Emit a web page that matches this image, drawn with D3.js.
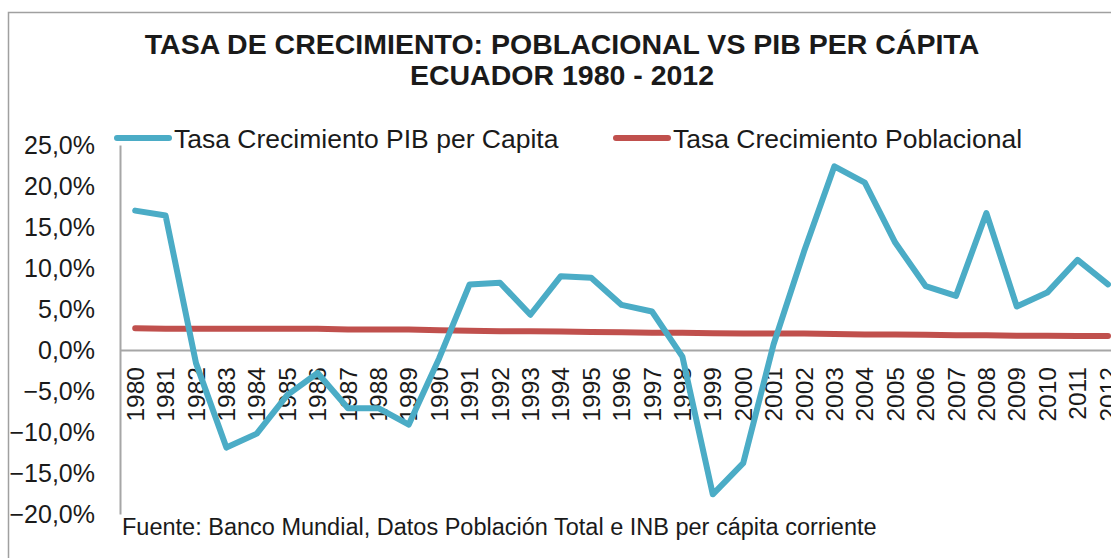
<!DOCTYPE html>
<html>
<head>
<meta charset="utf-8">
<script src="https://cdn.jsdelivr.net/npm/d3@7"></script>
<style>
  body { margin: 0; background: #fff; }
  svg { display: block; font-family: "Liberation Sans", Arial, sans-serif; }
</style>
</head>
<body>
<div id="chart"></div>
<script>
// Chart data
const years = ["1980","1981","1982","1983","1984","1985","1986","1987","1988","1989",
  "1990","1991","1992","1993","1994","1995","1996","1997","1998","1999","2000",
  "2001","2002","2003","2004","2005","2006","2007","2008","2009","2010","2011","2012"];

// Tasa crecimiento PIB per capita (%)
const pibValues = [17.0, 16.4, -1.6, -11.9, -10.2, -5.5, -2.8, -7.1, -7.1, -9.1,
  -1.0, 8.0, 8.2, 4.3, 9.0, 8.8, 5.5, 4.7, -0.8, -17.6, -13.8,
  0.7, 12.0, 22.4, 20.4, 13.1, 7.8, 6.6, 16.7, 5.3, 7.0, 11.0, 8.0];

// Tasa crecimiento poblacional (%)
const popValues = [2.65, 2.6, 2.6, 2.6, 2.6, 2.6, 2.6, 2.5, 2.5, 2.5,
  2.4, 2.35, 2.3, 2.3, 2.25, 2.2, 2.15, 2.1, 2.1, 2.05, 2.0,
  2.0, 2.0, 1.95, 1.9, 1.9, 1.85, 1.8, 1.8, 1.75, 1.75, 1.7, 1.7];

const yTicks = [-20, -15, -10, -5, 0, 5, 10, 15, 20, 25];

const titleLines = ["TASA DE CRECIMIENTO: POBLACIONAL VS PIB PER CÁPITA", "ECUADOR 1980 - 2012"];
const seriesNames = ["Tasa Crecimiento PIB per Capita", "Tasa Crecimiento Poblacional"];
const sourceText = "Fuente: Banco Mundial, Datos Población Total e INB per cápita corriente";

////////////////////////////////////////////////////////////////////////
// Layout

const width = 1111, height = 558;
const blue = "#4BACC6", red = "#C0504D", axisGray = "#A6A6A6";

const svg = d3.select("#chart").append("svg")
  .attr("width", width)
  .attr("height", height);

// chart frame (runs off the right and bottom edge, like the screenshot)
svg.append("rect")
  .attr("x", 8.5).attr("y", 12.5)
  .attr("width", 1300).attr("height", 700)
  .attr("fill", "#fff")
  .attr("stroke", "#A0A0A0")
  .attr("stroke-width", 1.5);

// Scales
const xScale = d3.scaleBand()
  .domain(years)
  .range([120, 120 + 33 * 30.4])
  .padding(0);

const yScale = d3.scaleLinear()
  .domain([-20, 25])
  .range([514, 145]);

const xc = d => xScale(d) + xScale.bandwidth() / 2;

// comma decimal locale
const esLocale = d3.formatLocale({decimal: ",", thousands: ".", grouping: [3], currency: ["", " €"]});
const fmt = esLocale.format(".1f");

// Title
svg.append("g")
  .selectAll("text")
  .data(titleLines)
  .join("text")
  .attr("x", 562)
  .attr("y", (d, i) => 54 + i * 31)
  .attr("text-anchor", "middle")
  .style("font-size", "28.5px")
  .style("font-weight", "bold")
  .style("fill", "#1a1a1a")
  .text(d => d);

// Y axis
const yAxis = svg.append("g")
  .attr("transform", "translate(120,0)")
  .call(d3.axisLeft(yScale).tickValues(yTicks).tickSize(0).tickPadding(25)
    .tickFormat(d => fmt(d) + "%"));
yAxis.select(".domain").attr("stroke", axisGray).attr("stroke-width", 2);
yAxis.selectAll("text")
  .style("font-size", "25px")
  .style("font-family", "'Liberation Sans', Arial, sans-serif")
  .style("fill", "#1a1a1a");

// X axis along the zero line
const xAxis = svg.append("g")
  .attr("transform", `translate(0,${yScale(0)})`)
  .call(d3.axisBottom(xScale).tickSize(0).tickSizeOuter(0));
xAxis.select(".domain").attr("stroke", axisGray).attr("stroke-width", 2);
xAxis.selectAll("text")
  .attr("transform", "translate(0,17) rotate(-90)")
  .attr("x", 0)
  .attr("y", 0)
  .attr("dy", "0.35em")
  .attr("text-anchor", "end")
  .style("font-size", "24.5px")
  .style("font-family", "'Liberation Sans', Arial, sans-serif")
  .style("fill", "#1a1a1a");

// Lines
const line = d3.line()
  .x((d, i) => xc(years[i]))
  .y(d => yScale(d));

svg.append("path")
  .datum(popValues)
  .attr("fill", "none")
  .attr("stroke", red)
  .attr("stroke-width", 6)
  .attr("stroke-linecap", "round")
  .attr("stroke-linejoin", "round")
  .attr("d", line);

svg.append("path")
  .datum(pibValues)
  .attr("fill", "none")
  .attr("stroke", blue)
  .attr("stroke-width", 6)
  .attr("stroke-linecap", "round")
  .attr("stroke-linejoin", "round")
  .attr("d", line);

// Legend
const legendX = [117, 616];
const legend = svg.append("g")
  .selectAll("g")
  .data(seriesNames)
  .join("g")
  .attr("transform", (d, i) => `translate(${legendX[i]},138)`);
legend.append("line")
  .attr("x1", 0).attr("x2", 52)
  .attr("stroke", (d, i) => i === 0 ? blue : red)
  .attr("stroke-width", 6)
  .attr("stroke-linecap", "round");
legend.append("text")
  .attr("x", 57)
  .attr("y", 10)
  .style("font-size", "26.5px")
  .style("fill", "#1a1a1a")
  .text(d => d);

// Source note
svg.append("text")
  .attr("x", 122)
  .attr("y", 535)
  .style("font-size", "23.5px")
  .style("fill", "#1a1a1a")
  .text(sourceText);
</script>
</body>
</html>
